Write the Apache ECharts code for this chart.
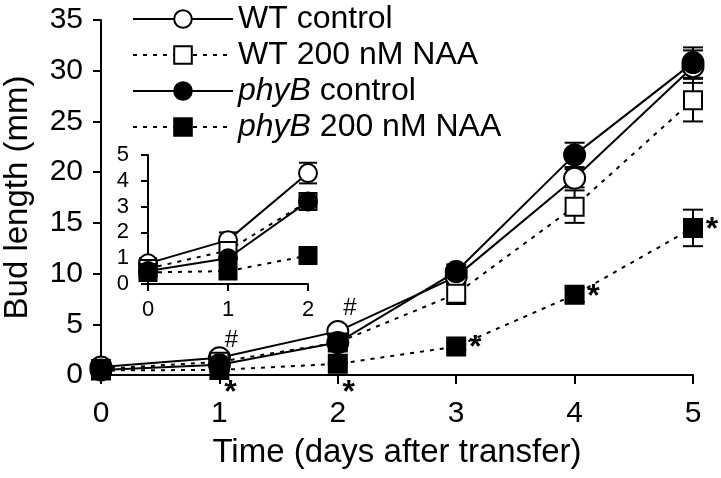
<!DOCTYPE html>
<html>
<head>
<meta charset="utf-8">
<script src="https://cdn.jsdelivr.net/npm/echarts@6/dist/echarts.min.js"></script>
<style>
html,body{margin:0;padding:0;background:#fff;}
#chart{width:721px;height:478px;}
</style>
</head>
<body>
<div id="chart"></div>
<script>
// ---- data ----
var days = [0, 1, 2, 3, 4, 5];
var insetDays = [0, 1, 2];
var seriesNames = ['WT control', 'WT 200 nM NAA', 'phyB control', 'phyB 200 nM NAA'];

var wtControl      = [0.8, 1.7, 4.3, 9.7, 19.4, 30.4];
var wtControlErr   = [0.2, 0.3, 0.4, 0.6, 0.9, 1.6];
var wtNAA          = [0.6, 1.3, 3.2, 8.0, 16.6, 27.1];
var wtNAAErr       = [0.2, 0.2, 0.3, 1.0, 1.6, 2.1];
var phybControl    = [0.5, 1.0, 3.2, 10.2, 21.7, 30.8];
var phybControlErr = [0.2, 0.2, 0.3, 0.7, 1.2, 1.5];
var phybNAA        = [0.45, 0.5, 1.1, 2.8, 7.9, 14.5];
var phybNAAErr     = [0.1, 0.1, 0.1, 0.3, 0.7, 1.8];

var yTicks = [0, 5, 10, 15, 20, 25, 30, 35];
var insetYTicks = [0, 1, 2, 3, 4, 5];

// significance marks: [day, value]
var starPoints = [[1, -1.2], [2, -1.2], [3, 2.8], [4, 7.9], [5, 14.5]];
var hashPoints = [[1, 3.45], [2, 6.6]];

// ---- styles ----
var FONT = 'Liberation Sans, Arial, Helvetica, sans-serif';
var values = [wtControl, wtNAA, phybControl, phybNAA];
var errs = [wtControlErr, wtNAAErr, phybControlErr, phybNAAErr];
var symbols = ['circle', 'rect', 'circle', 'rect'];
var filled = [false, false, true, true];
var dashed = [false, true, false, true];

function pairs(xs, ys) { return xs.map(function (x, i) { return [x, ys[i]]; }); }
function triples(xs, ys, es) { return xs.map(function (x, i) { return [x, ys[i], es[i]]; }); }

function errorBarSeries(name, data, xi, cap) {
  return {
    type: 'custom', name: name + '_err', xAxisIndex: xi, yAxisIndex: xi, z: 1,
    silent: true, clip: false,
    data: data,
    renderItem: function (params, api) {
      var x = api.value(0), y = api.value(1), e = api.value(2);
      var top = api.coord([x, y + e]);
      var bot = api.coord([x, y - e]);
      var st = { stroke: '#000', lineWidth: 2 };
      return {
        type: 'group',
        children: [
          { type: 'line', shape: { x1: top[0], y1: top[1], x2: bot[0], y2: bot[1] }, style: st },
          { type: 'line', shape: { x1: top[0] - cap / 2, y1: top[1], x2: top[0] + cap / 2, y2: top[1] }, style: st },
          { type: 'line', shape: { x1: bot[0] - cap / 2, y1: bot[1], x2: bot[0] + cap / 2, y2: bot[1] }, style: st }
        ]
      };
    }
  };
}

function lineSeries(k, name, data, xi, circleSize, rectSize) {
  return {
    type: 'line', name: name, xAxisIndex: xi, yAxisIndex: xi, z: 3 + k,
    data: data,
    symbol: symbols[k],
    symbolSize: symbols[k] === 'circle' ? circleSize : rectSize,
    showAllSymbol: true,
    clip: false,
    lineStyle: { color: '#000', width: 2, type: dashed[k] ? [4, 6] : 'solid' },
    itemStyle: { color: filled[k] ? '#000' : '#fff', borderColor: '#000', borderWidth: 2, opacity: 1 },
    emphasis: { disabled: true },
    animation: false
  };
}

function textSeries(data, text, fontSize, weight, dx, dy) {
  return {
    type: 'custom', xAxisIndex: 0, yAxisIndex: 0, z: 10, silent: true, clip: false,
    data: data,
    renderItem: function (params, api) {
      var p = api.coord([api.value(0), api.value(1)]);
      return {
        type: 'text', x: p[0] + dx, y: p[1] + dy,
        style: { text: text, font: weight + ' ' + fontSize + 'px ' + FONT, fill: '#000', textAlign: 'center', textVerticalAlign: 'middle' }
      };
    }
  };
}

var series = [];
// main chart
for (var k = 0; k < 4; k++) {
  series.push(errorBarSeries(seriesNames[k], triples(days, values[k], errs[k]), 0, 20));
}
for (var k2 = 0; k2 < 4; k2++) {
  series.push(lineSeries(k2, seriesNames[k2], pairs(days, values[k2]), 0, 21, 18));
}
// inset
for (var k3 = 0; k3 < 4; k3++) {
  series.push(errorBarSeries(seriesNames[k3] + ' inset', triples(insetDays, values[k3].slice(0, 3), errs[k3].slice(0, 3)), 1, 18));
}
for (var k4 = 0; k4 < 4; k4++) {
  series.push(lineSeries(k4, seriesNames[k4] + ' inset', pairs(insetDays, values[k4].slice(0, 3)), 1, 18, 17));
}
series.push(textSeries(starPoints.slice(0, 2), '*', 32, 'bold', 11, 6));
series.push(textSeries(starPoints.slice(2), '*', 32, 'bold', 19, 2));
series.push(textSeries(hashPoints, '#', 24, 'normal', 12, 0));

var axisLine = { show: true, onZero: false, lineStyle: { color: '#000', width: 2 } };
var axisTick = { show: true, inside: false, lineStyle: { color: '#000', width: 2 } };

var option = {
  animation: false,
  backgroundColor: '#fff',
  textStyle: { fontFamily: FONT },
  legend: {
    data: seriesNames,
    orient: 'vertical',
    left: 127, top: -2,
    itemWidth: 100, itemHeight: 22, itemGap: 4,
    selectedMode: false,
    formatter: function (n) { return n.indexOf('phyB') === 0 ? '{i|phyB}{r|' + n.slice(4) + '}' : '{r|' + n + '}'; },
    textStyle: {
      color: '#000', fontSize: 32, fontFamily: FONT, lineHeight: 31,
      rich: {
        i: { fontStyle: 'italic', fontSize: 32, fontFamily: FONT, color: '#000', lineHeight: 31 },
        r: { fontSize: 32, fontFamily: FONT, color: '#000', lineHeight: 31 }
      }
    }
  },
  grid: [
    { left: 101, right: 28, top: 20, bottom: 103, containLabel: false, outerBoundsMode: 'none' },
    { left: 148, right: 413, top: 155, bottom: 194, containLabel: false, outerBoundsMode: 'none' }
  ],
  xAxis: [
    {
      type: 'value', gridIndex: 0, min: 0, max: 5, interval: 1,
      name: 'Time (days after transfer)', nameLocation: 'middle', nameGap: 61,
      nameTextStyle: { fontSize: 33, color: '#000', fontFamily: FONT },
      axisLine: axisLine, axisTick: Object.assign({ length: 9 }, axisTick),
      axisLabel: { fontSize: 30, color: '#000', margin: 24, fontFamily: FONT },
      splitLine: { show: false }
    },
    {
      type: 'value', gridIndex: 1, min: 0, max: 2, interval: 1,
      axisLine: axisLine, axisTick: Object.assign({ length: 7 }, axisTick),
      axisLabel: { fontSize: 22, color: '#000', margin: 15, fontFamily: FONT },
      splitLine: { show: false }
    }
  ],
  yAxis: [
    {
      type: 'value', gridIndex: 0, min: 0, max: 35, interval: 5,
      name: 'Bud length (mm)', nameLocation: 'middle', nameGap: 67, nameRotate: 90,
      nameTextStyle: { fontSize: 33, color: '#000', fontFamily: FONT },
      axisLine: axisLine, axisTick: Object.assign({ length: 8 }, axisTick),
      axisLabel: {
        fontSize: 30, color: '#000', margin: 18, fontFamily: FONT,
        formatter: function (v) { return yTicks.indexOf(v) >= 0 ? String(v) : ''; }
      },
      splitLine: { show: false }
    },
    {
      type: 'value', gridIndex: 1, min: 0, max: 5, interval: 1,
      axisLine: axisLine, axisTick: Object.assign({ length: 7 }, axisTick),
      axisLabel: {
        fontSize: 22, color: '#000', margin: 19, fontFamily: FONT,
        formatter: function (v) { return insetYTicks.indexOf(v) >= 0 ? String(v) : ''; }
      },
      splitLine: { show: false }
    }
  ],
  series: series
};

var chart = echarts.init(document.getElementById('chart'), null, { renderer: 'canvas' });
chart.setOption(option);
</script>
</body>
</html>
